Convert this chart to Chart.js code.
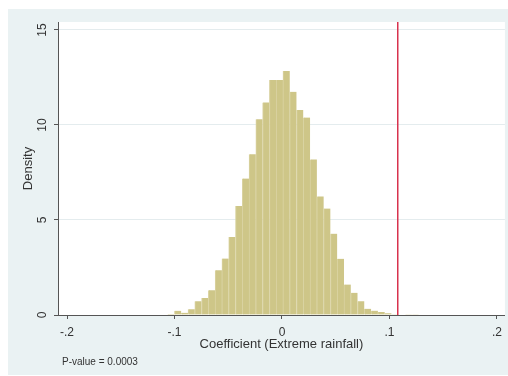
<!DOCTYPE html>
<html><head><meta charset="utf-8">
<script src="https://cdn.jsdelivr.net/npm/chart.js@4"></script>
<style>
html,body{margin:0;padding:0;background:#fff;}
#wrap{position:absolute;left:8px;top:9px;width:500px;height:366px;background:#EAF2F3;}
canvas{display:block;}
</style></head><body>
<div id="wrap"><canvas id="c" width="500" height="366"></canvas></div>
<script>
// Histogram bin centres (coefficient values)
const binCenters = [
  -0.122145,-0.115835,-0.109525,-0.103215,-0.096905,-0.090595,-0.084285,-0.077975,
  -0.071665,-0.065355,-0.059045,-0.052735,-0.046425,-0.040115,-0.033805,-0.027495,
  -0.021185,-0.014875,-0.008565,-0.002255, 0.004055, 0.010365, 0.016675, 0.022985,
   0.029295, 0.035605, 0.041915, 0.048225, 0.054535, 0.060845, 0.067155, 0.073465,
   0.079775, 0.086085, 0.092395, 0.098705, 0.105015, 0.111325, 0.117635, 0.123945
];
// Density for each bin
const density = [
  0.02, 0.02, 0.03, 0.05, 0.22, 0.12, 0.30, 0.72,
  0.90, 1.30, 2.35, 2.97, 4.10, 5.73, 7.18, 8.46,
  10.30, 11.19, 12.37, 12.37, 12.84, 11.75, 10.79, 10.39,
  8.19, 6.24, 5.60, 4.28, 2.96, 1.60, 1.17, 0.72,
  0.33, 0.23, 0.16, 0.09, 0.04, 0.02, 0.01, 0.01
];
const xTicks = [-0.2, -0.1, 0, 0.1, 0.2];
const xTickLabels = ['-.2', '-.1', '0', '.1', '.2'];
const yTicks = [0, 5, 10, 15];
const yTickLabels = ['0', '5', '10', '15'];
const observedCoef = 0.1077;
const xTitle = 'Coefficient (Extreme rainfall)';
const yTitle = 'Density';
const noteText = 'P-value = 0.0003';
const xMin = -0.2084, xMax = 0.2074, yMin = 0, yMax = 15.42;

const FONT = "'Liberation Sans', Arial, Helvetica, sans-serif";
const TEXT = '#333';

const decor = {
  id: 'decor',
  beforeDraw(chart) {
    const {ctx, chartArea: a} = chart;
    ctx.save();
    ctx.fillStyle = '#ffffff';
    ctx.fillRect(a.left, a.top, a.right - a.left, a.bottom - a.top);
    ctx.restore();
  },
  afterDraw(chart) {
    const ctx = chart.ctx;
    const ys = chart.scales.y;
    ctx.save();
    ctx.fillStyle = TEXT;
    ctx.font = '12px ' + FONT;
    ctx.textAlign = 'center';
    ctx.textBaseline = 'middle';
    yTicks.forEach((v, i) => {
      const py = ys.getPixelForValue(v);
      ctx.save();
      ctx.translate(35, py);
      ctx.rotate(-Math.PI / 2);
      ctx.fillText(yTickLabels[i], 0, 0);
      ctx.restore();
    });
    ctx.font = '10px ' + FONT;
    ctx.textAlign = 'left';
    ctx.fillText(noteText, 54, 353);
    ctx.restore();
  }
};

new Chart(document.getElementById('c'), {
  type: 'bar',
  data: {
    datasets: [
      {
        type: 'line',
        data: [{x: observedCoef, y: yMin}, {x: observedCoef, y: yMax}],
        borderColor: '#D8324E',
        borderWidth: 1.5,
        pointRadius: 0,
        order: 0
      },
      {
        type: 'bar',
        data: binCenters.map((x, i) => ({x: x, y: density[i]})),
        backgroundColor: '#CEC688',
        borderColor: '#DAD3A2',
        borderWidth: {left: 1, right: 0, top: 0, bottom: 0},
        borderSkipped: false,
        barPercentage: 1,
        categoryPercentage: 1,
        order: 1
      }
    ]
  },
  options: {
    responsive: false,
    animation: false,
    devicePixelRatio: 1,
    layout: {padding: {top: 13, right: 2, left: 0, bottom: 0}},
    plugins: {legend: {display: false}, tooltip: {enabled: false}},
    scales: {
      x: {
        type: 'linear', position: 'bottom', min: xMin, max: xMax, offset: false,
        afterBuildTicks: s => { s.ticks = xTicks.map(v => ({value: v})); },
        afterFit: s => { s.height = 60; },
        ticks: {
          autoSkip: false, maxRotation: 0, minRotation: 0, padding: 6,
          color: TEXT, font: {family: FONT, size: 12},
          callback: (v, i) => xTickLabels[i]
        },
        grid: {display: true, drawOnChartArea: false, offset: false, tickLength: 4, tickColor: '#555', color: '#555'},
        border: {display: true, color: '#555', width: 1},
        title: {display: true, text: xTitle, color: TEXT, font: {family: FONT, size: 13, lineHeight: 1.2}, padding: {top: 0, bottom: 23}}
      },
      y: {
        type: 'linear', min: yMin, max: yMax,
        afterBuildTicks: s => { s.ticks = yTicks.map(v => ({value: v})); },
        afterFit: s => { s.width = 50; },
        ticks: {display: false},
        grid: {color: '#E4ECEE', tickColor: '#555', tickLength: 4, drawOnChartArea: true},
        border: {display: true, color: '#555', width: 1},
        title: {display: true, text: yTitle, color: TEXT, font: {family: FONT, size: 13, lineHeight: 1.2}, padding: {top: 13, bottom: 0}}
      }
    }
  },
  plugins: [decor]
});
</script>
</body></html>
